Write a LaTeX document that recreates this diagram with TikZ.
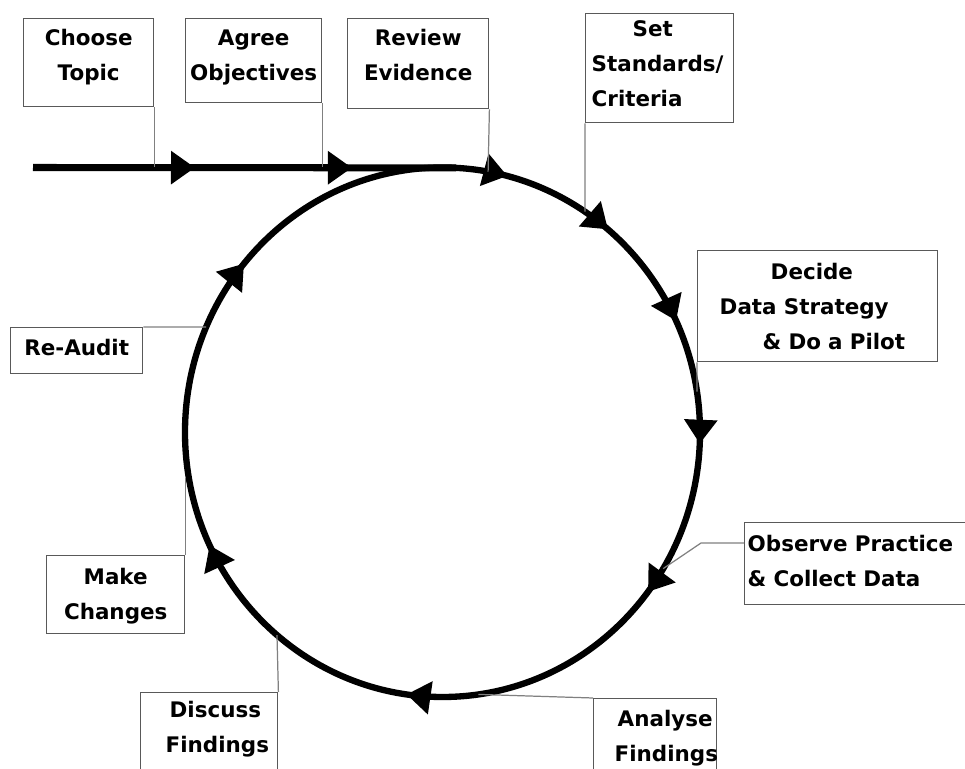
\documentclass[tikz,border=0pt]{standalone}
\usepackage{fontspec}
\setmainfont{DejaVu Sans}
\usetikzlibrary{arrows.meta,decorations.markings}
\hyphenpenalty=10000

\tikzset{
  stage/.style={draw=black!65, line width=0.8pt, anchor=north west, inner ysep=0pt,
    font=\fontsize{12.2}{19.9}\selectfont\bfseries},
  lead/.style={draw=black!50, line width=0.7pt},
  flow/.style={line width=4pt, postaction={decorate}},
  >={Triangle[length=0.48cm,width=0.64cm]}
}

\begin{document}
\begin{tikzpicture}
      \useasboundingbox (0,0) rectangle (19.3,15.38);
      \clip (0,0) rectangle (19.3,15.38);

      % the audit cycle
      \coordinate (c) at (8.85,6.735);
      \coordinate (start) at (0.66,12.03);
      \coordinate (ctop) at ([shift={(87:5.15 and 5.295)}]c);
      \coordinate (north) at ([shift={(90:5.15 and 5.295)}]c);
      \coordinate (rvC) at ([shift={(79.8:5.15 and 5.295)}]c);
      \coordinate (stC) at ([shift={(56.4:5.15 and 5.295)}]c);
      \coordinate (dcC) at ([shift={(8.8:5.15 and 5.295)}]c);
      \coordinate (obC) at ([shift={(-31:5.15 and 5.295)}]c);
      \coordinate (anC) at ([shift={(-82:5.15 and 5.295)}]c);
      \coordinate (dsC) at ([shift={(230:5.15 and 5.295)}]c);
      \coordinate (mkC) at ([shift={(190:5.15 and 5.295)}]c);
      \coordinate (raC) at ([shift={(156.6:5.15 and 5.295)}]c);

      \draw[flow, decoration={markings,
          mark=at position 0.383 with {\arrow{>}},
          mark=at position 0.754 with {\arrow{>}}}] (start) -- (ctop);
      \draw[flow, line width=3.6pt, decoration={markings,
          mark=at position 0.040 with {\arrow{>}},
          mark=at position 0.110 with {\arrow{>}},
          mark=at position 0.180 with {\arrow{>}},
          mark=at position 0.257 with {\arrow{>}},
          mark=at position 0.354 with {\arrow{>}},
          mark=at position 0.522 with {\arrow{>}},
          mark=at position 0.679 with {\arrow{>}},
          mark=at position 0.861 with {\arrow{>}}}]
        (north) arc [start angle=90, end angle=-270, x radius=5.15, y radius=5.295];

      % stages
      \node[stage, text width=2.4cm, inner xsep=0.1cm, text height=0.54cm, text depth=1.22cm, align=center]
        (choose) at (0.46,15.02) {Choose\\Topic};
      \node[stage, text width=2.58cm, inner xsep=0.07cm, text height=0.54cm, text depth=1.14cm, align=center]
        (agree) at (3.70,15.02) {Agree\\Objectives};
      \node[stage, text width=2.62cm, inner xsep=0.1cm, text height=0.54cm, text depth=1.26cm, align=center]
        (review) at (6.94,15.02) {Review\\Evidence};
      \node[stage, text width=2.72cm, inner xsep=0.12cm, text height=0.46cm, text depth=1.72cm, align=left]
        (standards) at (11.70,15.12) {\hspace*{0.82cm}Set\\Standards/\\Criteria};
      \node[stage, text width=3.92cm, inner xsep=0.44cm, text height=0.58cm, text depth=1.64cm, align=left]
        (decide) at (13.94,10.38) {\hspace*{1.02cm}Decide\\Data Strategy\\\hspace*{0.86cm}\& Do a Pilot};
      \node[stage, text width=4.48cm, inner xsep=0.06cm, text height=0.58cm, text depth=1.06cm, align=left]
        (observe) at (14.88,4.94) {Observe Practice\\\& Collect Data};
      \node[stage, text width=2.02cm, inner xsep=0.22cm, text height=0.56cm, text depth=1.5cm, align=left]
        (analyse) at (11.86,1.42) {\hspace*{0.26cm}Analyse\\\hspace*{0.2cm}Findings};
      \node[stage, text width=2.34cm, inner xsep=0.2cm, text height=0.50cm, text depth=1.5cm, align=left]
        (discuss) at (2.80,1.54) {\hspace*{0.38cm}Discuss\\\hspace*{0.3cm}Findings};
      \node[stage, text width=2.56cm, inner xsep=0.1cm, text height=0.58cm, text depth=0.98cm, align=center]
        (changes) at (0.92,4.28) {Make\\Changes};
      \node[stage, text width=2.44cm, inner xsep=0.1cm, text height=0.56cm, text depth=0.36cm, align=center]
        (reaudit) at (0.20,8.84) {Re-Audit};

      % leader lines
      \path[lead]
      (choose.south east) edge (choose.south east |- start)
      (agree.south east) edge (agree.south east |- start)
      (review.south east) edge (rvC)
      (standards.south west) edge (stC)
      (decide.south west) edge (dcC)
      (analyse.north west) edge (anC)
      (discuss.north east) edge (dsC)
      (changes.north east) edge (changes.north east |- mkC)
      (reaudit.north east) edge (raC);
      \draw[lead] ([yshift=-0.42cm]observe.north west) -- ++(-0.86,0) -- (obC);
    \end{tikzpicture}
\end{document}
